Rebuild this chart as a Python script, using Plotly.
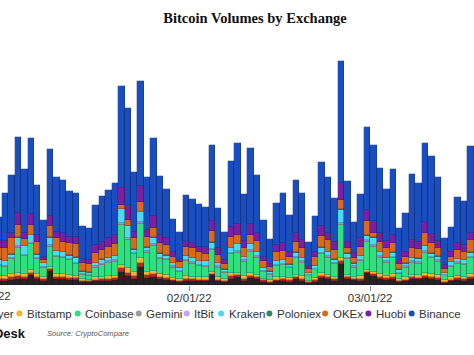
import pandas as pd
import plotly.graph_objects as go

# Daily bars, Jan 2 (partially visible) .. Mar 16, 2022
start_day = "2022-01-02 12:00"
n_days = 74

exchanges = ["Bitfinex", "bitFlyer", "Bitstamp", "Coinbase", "Gemini", "ItBit",
             "Kraken", "Poloniex", "OKEx", "Huobi", "Binance"]
colors = ["#2a2121", "#c0261d", "#f4b52c", "#2fe07c", "#9d9d9d", "#c9a3ef",
          "#4fd8f0", "#2e8b57", "#d96a1c", "#7a1fa0", "#1a4dbd"]

bitfinex = [.43, .43, .5, .63, .57, .97, .57, .43, 1.43, .57, .57, .5, .5, .3, .27, .37, .43, .43, .5,
            1.33, .9, .63, 1.83, .67, .83, .57, .5, .37, .3, .43, .43, .37, .37, 1.0, .37, .27, .63,
            .77, .43, .7, .57, .33, .23, .37, .4, .33, .57, .43, .2, .33, .7, .57, .4, 2.1, .57, .5,
            .43, 1.17, .9, .63, .5, .63, .3, .37, .57, .57, .7, .63, .5, .23, .37, .5, .43, .63]
bitflyer = [.2, .2, .27, .27, .23, .23, .23, .17, .17, .23, .23, .22, .17, .12, .1, .17, .17, .2, .17,
            .33, .33, .3, .4, .3, .27, .23, .22, .13, .12, .2, .17, .17, .17, .15, .17, .13, .23,
            .2, .2, .2, .19, .13, .12, .17, .19, .16, .19, .2, .1, .15, .2, .19, .19, .3, .19, .15,
            .2, .15, .19, .2, .17, .2, .12, .17, .19, .17, .23, .2, .2, .12, .17, .17, .17, .2]
bitstamp = [.27, .27, .33, .33, .3, .3, .3, .23, .23, .3, .3, .28, .23, .15, .13, .23, .23, .27, .23,
            .33, .43, .4, .43, .37, .33, .3, .28, .17, .15, .27, .23, .23, .23, .18, .23, .17, .3,
            .27, .27, .27, .24, .17, .15, .23, .24, .21, .24, .27, .13, .18, .27, .24, .24, .27, .24,
            .18, .27, .18, .24, .27, .23, .27, .15, .23, .24, .23, .3, .27, .27, .15, .23, .23, .23, .27]
coinbase = [1.0, .9, 1.47, 2.5, 1.8, 2.57, 1.47, .9, 1.97, 1.7, 1.57, 1.47, 1.17, .43, .4, .97, 1.17,
            1.33, 1.43, 4.02, 2.88, 1.73, 3.42, 1.9, 2.47, 1.47, 1.47, 1.07, .77, 1.5, 1.3, 1.13,
            1.03, 2.13, .97, .67, 1.9, 2.0, 1.43, 2.17, 1.73, .7, .5, 1.13, 1.17, .97, 1.67, 1.33,
            .43, .8, 1.9, 1.73, 1.23, 3.3, 1.57, .9, 1.5, 2.83, 2.47, 1.63, 1.33, 1.57, .57, .97,
            1.23, 1.17, 2.0, 1.57, 1.37, .37, 1.03, 1.23, 1.17, 1.57]
gemini = [.1, .1, .1, .11, .1, .11, .1, .09, .11, .1, .1, .1, .1, .08, .08, .09, .1, .1, .1,
          .15, .12, .1, .15, .1, .11, .1, .1, .09, .08, .1, .1, .09, .09, .11, .09, .08, .1,
          .11, .1, .11, .1, .08, .08, .09, .1, .09, .1, .1, .08, .09, .11, .1, .1, .2, .1, .09,
          .1, .12, .11, .1, .1, .1, .08, .09, .1, .1, .11, .1, .1, .08, .09, .1, .1, .1]
itbit = [.04, .04, .04, .05, .04, .05, .04, .03, .05, .04, .04, .04, .04, .03, .03, .04, .04, .04,
         .04, .04, .04, .04, .04, .04, .05, .04, .04, .03, .03, .04, .04, .04, .04, .05, .04, .03,
         .04, .05, .04, .05, .04, .03, .03, .04, .04, .04, .04, .04, .03, .04, .05, .04, .04, .05,
         .04, .04, .04, .05, .05, .04, .04, .04, .03, .04, .04, .04, .05, .04, .04, .03, .04,
         .04, .04, .04]
kraken = [.5, .43, .33, .83, .83, .73, .33, .33, .77, .43, .47, .33, .5, .23, .23, .33, .4, .33, .4,
          1.4, 1.17, .33, 1.03, .33, .67, .43, .33, .33, .23, .33, .43, .33, .43, .6, .33, .17, .5,
          .67, .33, .57, .4, .23, .23, .33, .33, .23, .4, .33, .2, .27, .5, .4, .33, 1.33, .43, .27,
          .33, .4, .77, .4, .33, .4, .27, .27, .33, .33, .5, .33, .33, .2, .33, .33, .33, .4]
poloniex = [.05, .05, .05, .06, .05, .06, .05, .04, .06, .05, .05, .05, .05, .04, .04, .05, .05,
            .05, .05, .05, .05, .05, .05, .05, .06, .05, .05, .04, .04, .05, .05, .05, .05, .06,
            .05, .04, .05, .06, .05, .06, .05, .04, .04, .05, .05, .05, .05, .05, .04, .05, .06,
            .05, .05, .06, .05, .05, .05, .06, .06, .05, .05, .05, .04, .05, .05, .05, .06, .05,
            .05, .04, .05, .05, .05, .05]
okex = [1.08, 1.24, 1.58, 1.24, .64, .98, 1.24, .28, 1.08, 1.24, 1.01, 1.18, 1.34, .81, .78, .91,
        .91, 1.08, 1.18, .34, .58, 1.08, .98, 1.08, .91, .98, 1.01, .58, .58, .91, .91, .91, .74,
        1.08, .74, .58, 1.08, .91, .81, .91, 1.11, .74, .41, .91, .91, .74, 1.08, .91, .41, .91,
        1.14, 1.18, .91, .89, .48, .48, .91, 1.41, .41, 1.01, .91, .91, .51, .64, .91, .91, 1.24,
        .98, .81, .41, .51, .84, .81, 1.24]
huobi = [.83, .77, .5, 1.23, .67, 1.13, .67, .33, 1.0, .67, .83, .67, .67, .43, .4, .83, .83, .83,
         .9, 1.67, 1.5, .67, 1.57, .67, 1.17, .83, .67, .5, .33, .6, .57, .5, .67, 1.0, .67, .33,
         1.0, 1.1, .77, 1.1, .73, .4, .33, .67, .73, .5, .83, .83, .33, .5, 1.0, .67, .83, 1.67,
         .67, .5, .83, 1.1, 1.17, .83, .77, .83, .4, .5, .83, .77, 1.07, .93, .77, .33, .5, .67,
         .67, .67]
binance = [2.33, 4.8, 5.83, 7.53, 6.33, 7.57, 5.0, 3.67, 6.73, 5.43, 5.33, 4.57, 4.47, 3.3, 3.27,
           3.97, 4.57, 4.83, 5.17, 10.27, 9.67, 5.93, 10.5, 5.27, 7.8, 5.93, 4.9, 3.3, 2.67, 4.57,
           4.37, 4.27, 4.0, 7.63, 4.03, 2.83, 6.6, 8.07, 4.67, 7.53, 5.83, 3.67, 2.5, 4.17, 5.0,
           3.73, 5.33, 4.67, 2.33, 3.57, 6.37, 5.67, 4.43, 12.27, 6.07, 3.17, 4.43, 8.33, 7.67,
           6.5, 5.17, 6.57, 3.23, 3.83, 6.57, 5.83, 7.93, 7.8, 6.33, 2.77, 2.5, 4.67, 4.43, 8.73]

series = [bitfinex, bitflyer, bitstamp, coinbase, gemini, itbit, kraken, poloniex, okex, huobi, binance]

tick_vals = ["2022-01-01", "2022-02-01", "2022-03-01"]
tick_text = ["01/01/22", "02/01/22", "03/01/22"]

# legend row (visible part of the original, centred legend)
legend_names = ["bitFlyer", "Bitstamp", "Coinbase", "Gemini", "ItBit", "Kraken",
                "Poloniex", "OKEx", "Huobi", "Binance"]
legend_text_x = [-26, 25, 83.3, 144.3, 192.3, 226.7, 275, 330.7, 374, 417.3]

W, H = 474, 355
ML, MR, MT, MB = 0, 0, 40, 70
plot_h = H - MT - MB

dates = pd.date_range(start_day, periods=n_days, freq="D")

fig = go.Figure()
for name, col, vals in zip(exchanges, colors, series):
    fig.add_trace(go.Bar(
        x=dates, y=vals, name=name,
        marker=dict(color=col, line=dict(color="rgba(10,20,60,0.45)", width=0.5)),
        showlegend=False,
    ))

def px_x(p):
    return p / W

def px_y(p):
    return (H - MB - p) / plot_h

annotations = []
shapes = []
leg_y = px_y(313.5)
for name, tx in zip(legend_names, legend_text_x):
    col = colors[exchanges.index(name)]
    annotations.append(dict(
        text=name, x=px_x(tx), y=leg_y, xref="paper", yref="paper",
        xanchor="left", yanchor="middle", showarrow=False,
        font=dict(family="Liberation Sans, Arial, sans-serif", size=11.5, color="#333333"),
    ))
    cx = tx - 5.6
    shapes.append(dict(
        type="circle", xref="paper", yref="paper", xsizemode="pixel", ysizemode="pixel",
        xanchor=px_x(cx), yanchor=leg_y, x0=-3, x1=3, y0=-3, y1=3,
        fillcolor=col, line=dict(width=0),
    ))

# partially visible first tick label
annotations.append(dict(
    text=tick_text[0], x=px_x(-11.2), y=px_y(296), xref="paper", yref="paper",
    xanchor="center", yanchor="middle", showarrow=False,
    font=dict(family="Liberation Sans, Arial, sans-serif", size=11.5, color="#333333"),
))
# brand + source
annotations.append(dict(
    text="<b>CoinDesk</b>", x=px_x(27.5), y=px_y(333), xref="paper", yref="paper",
    xanchor="right", yanchor="middle", showarrow=False,
    font=dict(family="Liberation Sans, Arial, sans-serif", size=13, color="#111111"),
))
annotations.append(dict(
    text="<i>Source: CryptoCompare</i>", x=px_x(45), y=px_y(333), xref="paper", yref="paper",
    xanchor="left", yanchor="middle", showarrow=False,
    font=dict(family="Liberation Sans, Arial, sans-serif", size=7.6, color="#555555"),
))

fig.update_layout(
    width=W, height=H,
    margin=dict(l=ML, r=MR, t=MT, b=MB, pad=0),
    barmode="stack", bargap=0,
    paper_bgcolor="white", plot_bgcolor="white",
    title=dict(text="<b>Bitcoin Volumes by Exchange</b>", x=255 / W, y=1 - 18 / H,
               xanchor="center", yanchor="middle", xref="container", yref="container",
               font=dict(family="Liberation Serif, Times New Roman, serif", size=14.5, color="#111111")),
    xaxis=dict(type="date", range=["2022-01-02 17:41", "2022-03-17 01:40"],
               tickvals=tick_vals, ticktext=tick_text, ticks="outside", ticklen=5,
               tickwidth=1, tickcolor="#8a8f9a", showgrid=False, zeroline=False,
               showline=False, ticklabelstandoff=-3,
               tickfont=dict(family="Liberation Sans, Arial, sans-serif", size=11.5, color="#333333")),
    yaxis=dict(range=[0, plot_h / 10], visible=False, showgrid=False, zeroline=False),
    annotations=annotations, shapes=shapes,
    showlegend=False,
)

fig.write_html("out.html", config={"displayModeBar": False},
               post_script="document.body.style.margin='0';document.body.style.padding='0';")
